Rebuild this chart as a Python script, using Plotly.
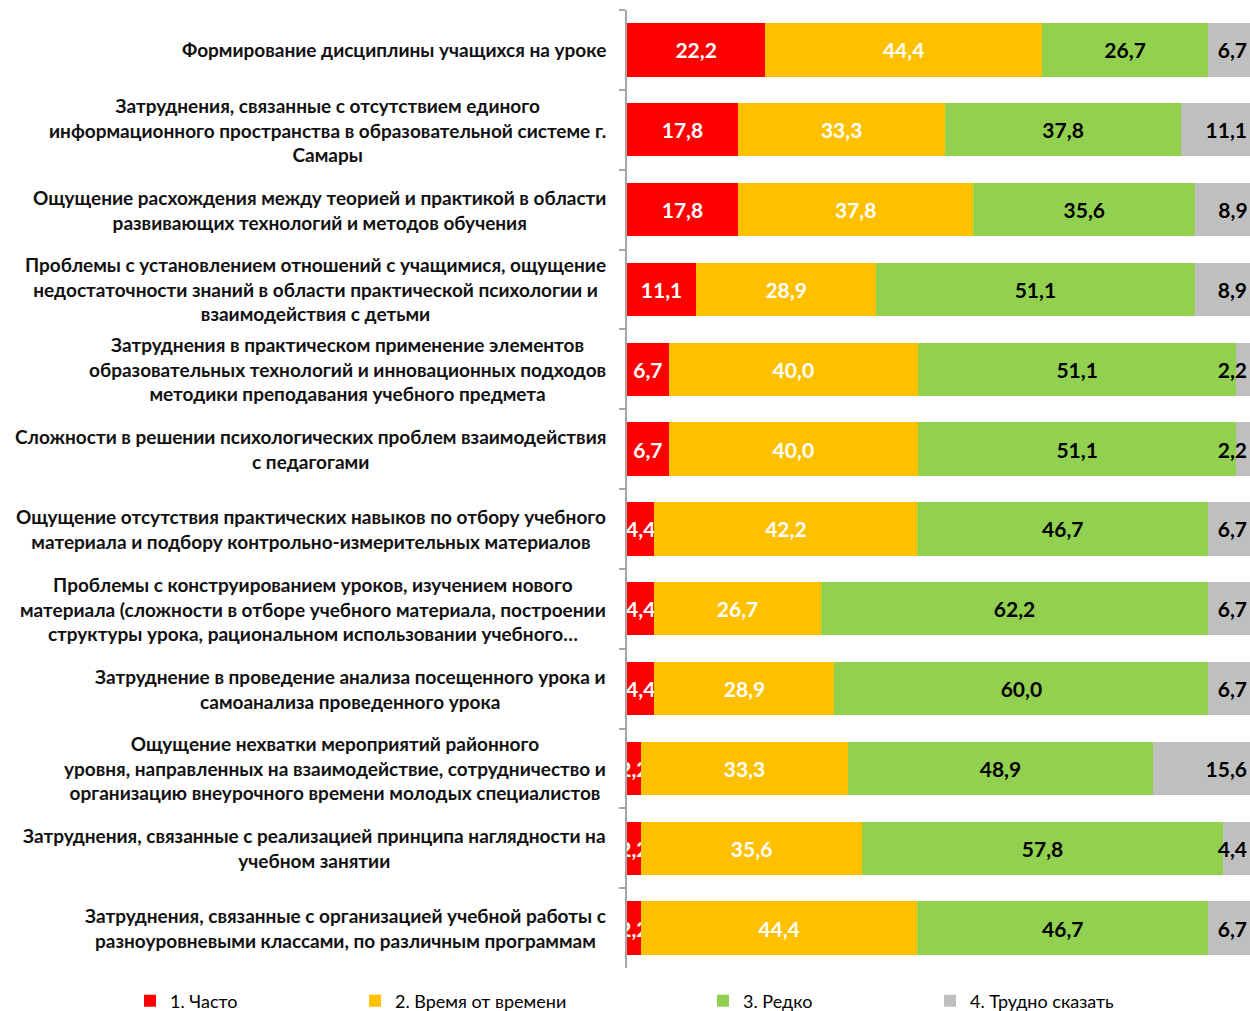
import plotly.graph_objects as go

categories = [
    "Формирование дисциплины учащихся на уроке",
    "Затруднения, связанные с отсутствием единого<br>информационного пространства в образовательной системе г.<br>Самары",
    "Ощущение расхождения между теорией и практикой в области<br>развивающих технологий и методов обучения",
    "Проблемы с установлением отношений с учащимися, ощущение<br>недостаточности знаний в области практической психологии и<br>взаимодействия с детьми",
    "Затруднения в практическом применение элементов<br>образовательных технологий и инновационных подходов<br>методики преподавания учебного предмета",
    "Сложности в решении психологических проблем взаимодействия<br>с педагогами",
    "Ощущение отсутствия практических навыков по отбору учебного<br>материала и подбору контрольно-измерительных материалов",
    "Проблемы с конструированием уроков, изучением нового<br>материала (сложности в отборе учебного материала, построении<br>структуры урока, рациональном использовании учебного…",
    "Затруднение в проведение анализа посещенного урока и<br>самоанализа проведенного урока",
    "Ощущение нехватки мероприятий районного<br>уровня, направленных на взаимодействие, сотрудничество и<br>организацию внеурочного времени молодых специалистов",
    "Затруднения, связанные с реализацией принципа наглядности на<br>учебном занятии",
    "Затруднения, связанные с организацией учебной работы с<br>разноуровневыми классами, по различным программам",
]

often = [22.2, 17.8, 17.8, 11.1, 6.7, 6.7, 4.4, 4.4, 4.4, 2.2, 2.2, 2.2]
sometimes = [44.4, 33.3, 37.8, 28.9, 40.0, 40.0, 42.2, 26.7, 28.9, 33.3, 35.6, 44.4]
rarely = [26.7, 37.8, 35.6, 51.1, 51.1, 51.1, 46.7, 62.2, 60.0, 48.9, 57.8, 46.7]
hard_to_say = [6.7, 11.1, 8.9, 8.9, 2.2, 2.2, 6.7, 6.7, 6.7, 15.6, 4.4, 6.7]

series_names = ["1. Часто", "2. Время от времени", "3. Редко", "4. Трудно сказать"]
series_values = [often, sometimes, rarely, hard_to_say]
series_colors = ["#FF0000", "#FFC000", "#92D050", "#BFBFBF"]
text_colors = ["#FFFFFF", "#FFFFFF", "#000000", "#000000"]
text_anchors = ["middle", "middle", "middle", "end"]
legend_px = [130, 355, 703, 930]

W, H = 1250, 1011
fig = go.Figure()
legend_ids = ["legend", "legend2", "legend3", "legend4"]
for i, (name, vals) in enumerate(zip(series_names, series_values)):
    fig.add_trace(go.Bar(
        y=categories, x=vals, orientation="h", name=name,
        marker=dict(color=series_colors[i], line=dict(width=0)),
        text=[f"{v:.1f}".replace(".", ",") for v in vals],
        textposition="inside", insidetextanchor=text_anchors[i],
        constraintext="none", textangle=0,
        textfont=dict(family="Lato", size=21, color=text_colors[i], weight="bold"),
        legend=legend_ids[i],
        hoverinfo="skip",
    ))

layout_legends = {}
for i, lid in enumerate(legend_ids):
    layout_legends[lid] = dict(
        x=legend_px[i] / W, xref="container", xanchor="left",
        y=(H - 1001) / H, yref="container", yanchor="middle",
        orientation="h", font=dict(family="Lato", size=18, color="#000000"),
        bgcolor="rgba(0,0,0,0)", itemwidth=30,
    )

for cat in categories:
    fig.add_annotation(
        x=0, xref="paper", y=cat, yref="y", text=cat, showarrow=False,
        xanchor="right", yanchor="middle", align="center", xshift=-19,
        font=dict(family="Lato", size=19, color="#111111", weight="bold"),
    )

fig.update_layout(
    width=W, height=H,
    barmode="stack", bargap=0.33,
    plot_bgcolor="white", paper_bgcolor="white",
    margin=dict(l=627, r=0, t=10, b=43),
    showlegend=True,
    uniformtext=dict(mode=False),
    xaxis=dict(range=[0, 100], visible=False, fixedrange=True),
    yaxis=dict(
        autorange="reversed", showticklabels=False,
        showline=True, linecolor="#A6A6A6", linewidth=2,
        ticks="outside", tickson="boundaries", ticklen=6, tickcolor="#A6A6A6",
        tickwidth=1.5,
    ),
    **layout_legends,
)

fig.write_html("out.html", config={"displayModeBar": False},
               post_script="document.body.style.margin='0';")
